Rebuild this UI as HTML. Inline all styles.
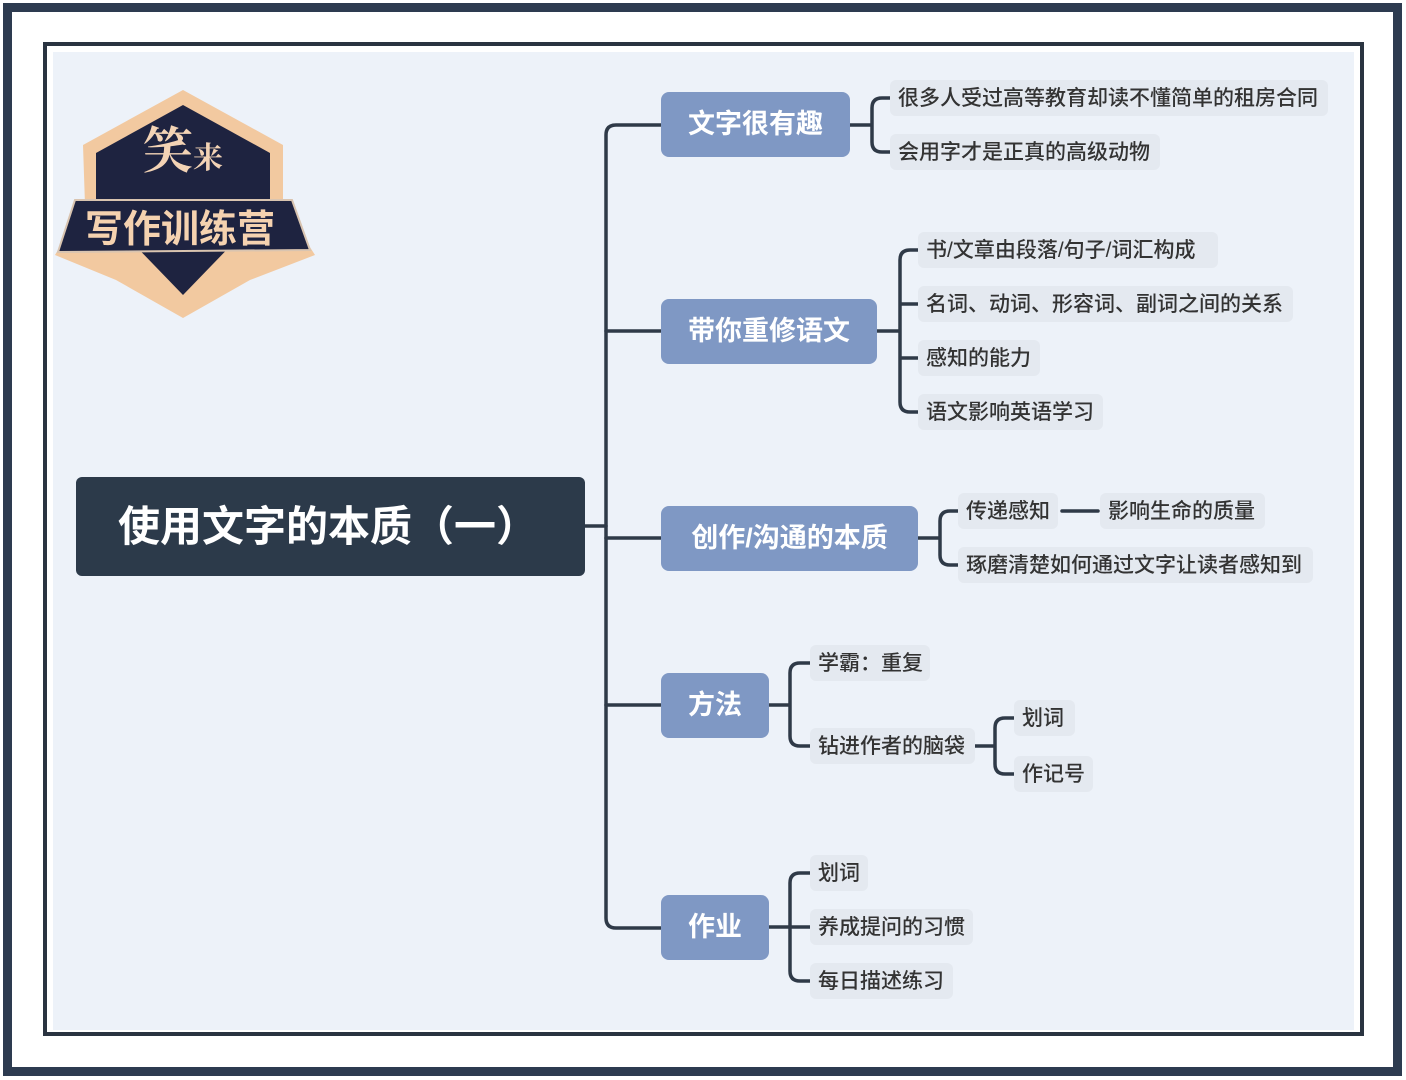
<!DOCTYPE html>
<html><head><meta charset="utf-8"><style>
body{margin:0;width:1406px;height:1080px;background:#fff;position:relative;overflow:hidden;font-family:"Liberation Sans","Noto Sans CJK SC",sans-serif}
.a{position:absolute}
.outer{left:3px;top:3px;width:1381px;height:1055px;border:9px solid #2d3b50;background:#fff}
.inner{left:43px;top:42px;width:1313px;height:986px;border:4px solid #2a3441;background:#fff}
.bg{left:53px;top:52px;width:1301px;height:978px;background:#edf2f9}
.root{left:76px;top:477px;width:509px;height:99px;background:#2c3a4a;border-radius:6px;color:#fff;font-size:42px;font-weight:bold;line-height:99px;padding-left:42px;box-sizing:border-box}
.t{background:#7f98c4;border-radius:8px;color:#fff;font-size:27px;font-weight:bold;height:65px;line-height:65px;text-align:center}
.l{background:#e4e9f0;border-radius:6px;color:#333;font-size:21px;font-weight:500;height:36px;line-height:38px;padding-left:8px;box-sizing:border-box;white-space:nowrap}
</style></head><body>
<div class="a outer"></div>
<div class="a inner"></div>
<div class="a bg"></div>
<svg class="a" style="left:0;top:0" width="1406" height="1080">
<polygon points="183,90 283,145 283,205 315,255 250,280 183,318 116,280 55,255 85,205 83,145" fill="#f2c9a0"/>
<polygon points="183,105 270,153 270,205 183,295 96,205 96,153" fill="#1e2340"/>
<polygon points="75,200 292,200 310,250 58,252" fill="#1e2340" stroke="#d9c4b0" stroke-width="2"/>
<text x="183" y="168" font-size="50" font-weight="bold" fill="#f3d3b5" text-anchor="middle" font-family="Noto Serif CJK SC,serif">笑<tspan font-size="30">来</tspan></text>
<text x="180" y="242" font-size="38" font-weight="bold" fill="#f5d2b0" text-anchor="middle" font-family="Noto Sans CJK SC,sans-serif">写作训练营</text>
<g fill="none" stroke="#2f3a48" stroke-width="3.5" stroke-linecap="round">
<path d="M585,526 H606"/>
<path d="M661,125 H616 Q606,125 606,135 V918 Q606,928 616,928 H661"/>
<path d="M606,331 H661 M606,538 H661 M606,705 H661"/>
<path d="M850,125 H872 M890,98 H882 Q872,98 872,108 V142 Q872,152 882,152 H890"/>
<path d="M877,331 H900 M918,250 H910 Q900,250 900,260 V402 Q900,412 910,412 H918 M900,304 H918 M900,358 H918"/>
<path d="M918,538 H940 M958,511 H950 Q940,511 940,521 V555 Q940,565 950,565 H958"/>
<path d="M1062,511 H1098"/>
<path d="M769,705 H790 M810,663 H800 Q790,663 790,673 V736 Q790,746 800,746 H810"/>
<path d="M975,746 H995 M1014,718 H1005 Q995,718 995,728 V764 Q995,774 1005,774 H1014"/>
<path d="M769,927 H810 M810,873 H800 Q790,873 790,883 V971 Q790,981 800,981 H810"/>
</g>
</svg>
<div class="a root">使用文字的本质（一）</div>
<div class="a t" style="left:661px;top:92px;width:189px">文字很有趣</div>
<div class="a t" style="left:661px;top:299px;width:216px">带你重修语文</div>
<div class="a t" style="left:661px;top:506px;width:257px">创作/沟通的本质</div>
<div class="a t" style="left:661px;top:673px;width:108px">方法</div>
<div class="a t" style="left:661px;top:895px;width:108px">作业</div>

<div class="a l" style="left:890px;top:80px;width:438px">很多人受过高等教育却读不懂简单的租房合同</div>
<div class="a l" style="left:890px;top:134px;width:270px">会用字才是正真的高级动物</div>
<div class="a l" style="left:918px;top:232px;width:300px">书/文章由段落/句子/词汇构成</div>
<div class="a l" style="left:918px;top:286px;width:375px">名词、动词、形容词、副词之间的关系</div>
<div class="a l" style="left:918px;top:340px;width:122px">感知的能力</div>
<div class="a l" style="left:918px;top:394px;width:185px">语文影响英语学习</div>
<div class="a l" style="left:958px;top:493px;width:100px">传递感知</div>
<div class="a l" style="left:1100px;top:493px;width:165px">影响生命的质量</div>
<div class="a l" style="left:958px;top:547px;width:355px">琢磨清楚如何通过文字让读者感知到</div>
<div class="a l" style="left:810px;top:645px;width:120px">学霸：重复</div>
<div class="a l" style="left:810px;top:728px;width:165px">钻进作者的脑袋</div>
<div class="a l" style="left:1014px;top:700px;width:61px">划词</div>
<div class="a l" style="left:1014px;top:756px;width:79px">作记号</div>
<div class="a l" style="left:810px;top:855px;width:58px">划词</div>
<div class="a l" style="left:810px;top:909px;width:163px">养成提问的习惯</div>
<div class="a l" style="left:810px;top:963px;width:143px">每日描述练习</div>
</body></html>
